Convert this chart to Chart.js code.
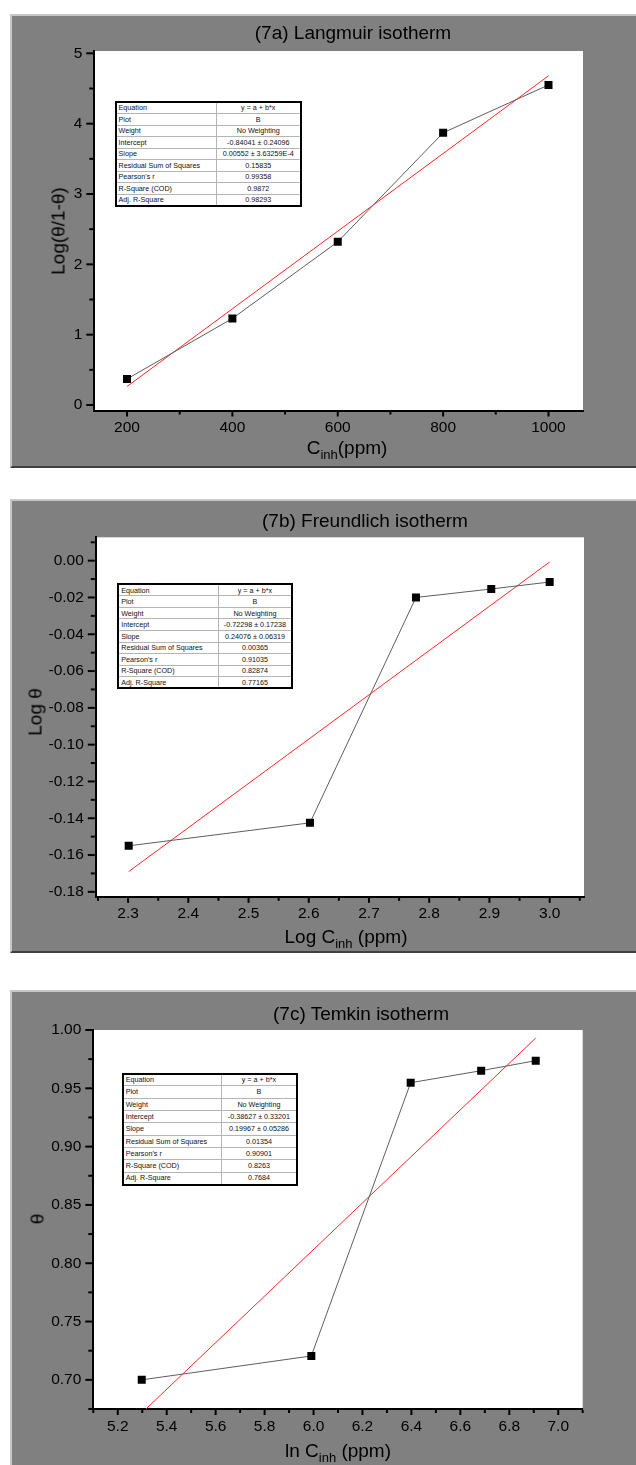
<!DOCTYPE html>
<html>
<head>
<meta charset="utf-8">
<script src="https://cdn.jsdelivr.net/npm/chart.js@4.4.1/dist/chart.umd.min.js"></script>
<style>
html, body { margin: 0; padding: 0; background: #fff; }
body { width: 636px; height: 1465px; position: relative; overflow: hidden;
       font-family: "Liberation Sans", Arial, sans-serif; color: #000; }
.panel { position: absolute; left: 10px; width: 626px; box-sizing: border-box;
         background: #808080; border-top: 2px solid #c8c8c8; border-left: 2px solid #c8c8c8; }
.panel canvas { position: absolute; left: 0; top: 0; }
.txt { position: absolute; white-space: nowrap; font-size: 19px; line-height: 1;
       transform: translate(-50%, -50%); color: #000; }
.txt.rot { transform: translate(-50%, -50%) rotate(-90deg); }
.txt .sb { position: relative; top: 5px; font-size: 13px; }
table.fit { position: absolute; border-collapse: collapse; background: #fff; table-layout: fixed;
            font: 7.2px "Liberation Sans", Arial, sans-serif; color: #111; border: 2px solid #000; }
table.fit td { border: 1px solid #b4b4b4; padding: 0 0 0 2px; line-height: 1; white-space: nowrap;
               overflow: hidden; vertical-align: middle; }
table.fit td.v { text-align: center; padding: 0; border-left-color: #8c8c8c; }
</style>
</head>
<body>

<div class="panel" style="top:14px;height:454px;border-bottom:2px solid #404040;">
  <canvas id="chartA" width="624" height="450"></canvas>
</div>
<div class="panel" style="top:499px;height:454px;border-bottom:2px solid #404040;">
  <canvas id="chartB" width="624" height="450"></canvas>
</div>
<div class="panel" style="top:990px;height:475px;">
  <canvas id="chartC" width="624" height="473"></canvas>
</div>

<div class="txt" style="left:353px;top:32px;">(7a) Langmuir isotherm</div>
<div class="txt" style="left:347px;top:447px;">C<span class="sb">inh</span>(ppm)</div>
<div class="txt rot" style="left:58px;top:231px;">Log(θ/1-θ)</div>

<div class="txt" style="left:365px;top:520px;">(7b) Freundlich isotherm</div>
<div class="txt" style="left:346px;top:936px;">Log C<span class="sb">inh</span> (ppm)</div>
<div class="txt rot" style="left:35px;top:712px;">Log θ</div>

<div class="txt" style="left:361px;top:1013px;">(7c) Temkin isotherm</div>
<div class="txt" style="left:338px;top:1450px;">ln C<span class="sb">inh</span> (ppm)</div>
<div class="txt rot" style="left:37px;top:1219px;">θ</div>

<script>
// ---- inhibitor concentrations and measured responses ----
const concA = [200, 400, 600, 800, 1000];               // C_inh (ppm)
const langmuirY = [0.37, 1.23, 2.32, 3.87, 4.55];       // Log(θ/1-θ)

const logConc = [2.301, 2.602, 2.778, 2.903, 3.0];      // Log C_inh
const logTheta = [-0.155, -0.1425, -0.020, -0.0154, -0.0116];

const lnConc = [5.298, 5.991, 6.397, 6.685, 6.908];     // ln C_inh
const theta = [0.700, 0.7205, 0.9548, 0.9651, 0.9737];

// ---- linear fit results (y = a + b*x) ----
const fitIntercepts = [-0.84041, -0.72298, -0.38627];
const fitSlopes = [0.00552, 0.24076, 0.19967];

// ---- fit report rows ----
const reportNames = ['Equation', 'Plot', 'Weight', 'Intercept', 'Slope',
  'Residual Sum of Squares', "Pearson's r", 'R-Square (COD)', 'Adj. R-Square'];
const reportA = ['y = a + b*x', 'B', 'No Weighting', '-0.84041 ± 0.24096', '0.00552 ± 3.63259E-4',
  '0.15835', '0.99358', '0.9872', '0.98293'];
const reportB = ['y = a + b*x', 'B', 'No Weighting', '-0.72298 ± 0.17238', '0.24076 ± 0.06319',
  '0.00365', '0.91035', '0.82874', '0.77165'];
const reportC = ['y = a + b*x', 'B', 'No Weighting', '-0.38627 ± 0.33201', '0.19967 ± 0.05286',
  '0.01354', '0.90901', '0.8263', '0.7684'];

// ---- tick labels ----
const xTicksA = ['200', '400', '600', '800', '1000'];
const yTicksA = ['0', '1', '2', '3', '4', '5'];
const xTicksB = ['2.3', '2.4', '2.5', '2.6', '2.7', '2.8', '2.9', '3.0'];
const yTicksB = ['-0.18', '-0.16', '-0.14', '-0.12', '-0.10', '-0.08', '-0.06', '-0.04', '-0.02', '0.00'];
const xTicksC = ['5.2', '5.4', '5.6', '5.8', '6.0', '6.2', '6.4', '6.6', '6.8', '7.0'];
const yTicksC = ['0.70', '0.75', '0.80', '0.85', '0.90', '0.95', '1.00'];

const FONT = '"Liberation Sans", Arial, sans-serif';

// Major ticks come from the label list; a minor tick sits halfway between majors.
function tickBuilder(labels) {
  const majors = labels.map(Number);
  const step = (majors[majors.length - 1] - majors[0]) / (majors.length - 1);
  return scale => {
    const out = [];
    const eps = step * 1e-3;
    for (let k = -4; k <= 2 * (majors.length - 1) + 4; k++) {
      const v = majors[0] + k * step / 2;
      if (v < scale.min - eps || v > scale.max + eps) continue;
      const isMajor = k % 2 === 0 && k >= 0 && k / 2 < majors.length;
      out.push({ value: v, major: isMajor, text: isMajor ? labels[k / 2] : '' });
    }
    scale.ticks = out;
  };
}

// White plot area plus outward major/minor tick marks.
const plotFrame = {
  id: 'plotFrame',
  beforeDraw(chart) {
    const { ctx, chartArea: a } = chart;
    ctx.save();
    ctx.fillStyle = '#ffffff';
    ctx.fillRect(a.left, a.top, a.right - a.left, a.bottom - a.top);
    ctx.restore();
  },
  afterDraw(chart) {
    const { ctx, chartArea: a } = chart;
    const xs = chart.scales.x, ys = chart.scales.y;
    ctx.save();
    ctx.strokeStyle = '#000';
    ctx.lineWidth = 2;
    xs.ticks.forEach(t => {
      const p = xs.getPixelForValue(t.value);
      const len = t.major ? 5 : 3;
      ctx.beginPath();
      ctx.moveTo(p, a.bottom + 1);
      ctx.lineTo(p, a.bottom + 1 + len);
      ctx.stroke();
    });
    ys.ticks.forEach(t => {
      const p = ys.getPixelForValue(t.value);
      const len = t.major ? 7 : 4;
      ctx.beginPath();
      ctx.moveTo(a.left - 1, p);
      ctx.lineTo(a.left - 1 - len, p);
      ctx.stroke();
    });
    ctx.restore();
  }
};

function axis(labels, min, max, extra) {
  return Object.assign({
    type: 'linear', min, max,
    afterBuildTicks: tickBuilder(labels),
    grid: { display: false, drawTicks: false, tickLength: 0 },
    border: { display: true, color: '#000', width: 2 },
    ticks: {
      autoSkip: false, maxRotation: 0, minRotation: 0, color: '#000',
      font: { family: FONT, size: 15.5 },
      callback: (v, i, ticks) => ticks[i].text || ''
    }
  }, extra);
}

// area = [left, right, top, bottom] of the plot in page pixels; origin = panel interior corner
function makeChart(id, cfg) {
  const canvas = document.getElementById(id);
  const W = canvas.width, H = canvas.height;
  const L = cfg.area[0] - cfg.origin[0], R = cfg.area[1] - cfg.origin[0];
  const T = cfg.area[2] - cfg.origin[1], B = cfg.area[3] - cfg.origin[1];
  const x0 = cfg.xs[0], x1 = cfg.xs[cfg.xs.length - 1];
  const fitLine = [{ x: x0, y: cfg.a + cfg.b * x0 }, { x: x1, y: cfg.a + cfg.b * x1 }];

  const xAxis = axis(cfg.xTicks, cfg.xRange[0], cfg.xRange[1], { position: 'bottom' });
  xAxis.ticks.padding = 8;
  xAxis.afterFit = s => { s.height = H - B; };
  const yAxis = axis(cfg.yTicks, cfg.yRange[0], cfg.yRange[1], { position: 'left' });
  yAxis.ticks.padding = 12;
  yAxis.afterFit = s => { s.width = L; };

  return new Chart(canvas, {
    type: 'scatter',
    data: {
      datasets: [
        {
          data: cfg.xs.map((x, i) => ({ x, y: cfg.ys[i] })),
          showLine: true, borderColor: '#5e5e5e', borderWidth: 1,
          pointStyle: 'rect', pointRadius: 5.66, pointHoverRadius: 5.66,
          pointBackgroundColor: '#000', pointBorderWidth: 0, order: 0
        },
        {
          data: fitLine, showLine: true, borderColor: '#ff2626', borderWidth: 1,
          pointRadius: 0, pointHoverRadius: 0, order: 1
        }
      ]
    },
    options: {
      responsive: false, animation: false, events: [],
      layout: { padding: { left: 0, top: T, right: W - R, bottom: 0 } },
      plugins: { legend: { display: false }, tooltip: { enabled: false }, title: { display: false } },
      scales: { x: xAxis, y: yAxis }
    },
    plugins: [plotFrame]
  });
}

makeChart('chartA', {
  origin: [12, 16], area: [94.3, 583, 51, 410.5],
  xs: concA, ys: langmuirY, a: fitIntercepts[0], b: fitSlopes[0],
  xTicks: xTicksA, yTicks: yTicksA, xRange: [137.9, 1065.5], yRange: [-0.078, 5.033]
});
makeChart('chartB', {
  origin: [12, 501], area: [95.8, 584, 537.3, 896.8],
  xs: logConc, ys: logTheta, a: fitIntercepts[1], b: fitSlopes[1],
  xTicks: xTicksB, yTicks: yTicksB, xRange: [2.2464, 3.057], yRange: [-0.1827, 0.0127]
});
makeChart('chartC', {
  origin: [12, 992], area: [93.3, 582.7, 1030, 1409],
  xs: lnConc, ys: theta, a: fitIntercepts[2], b: fitSlopes[2],
  xTicks: xTicksC, yTicks: yTicksC, xRange: [5.1, 7.1], yRange: [0.675, 1.0]
});

// Fit report tables
function makeReport(values, box) {
  const t = document.createElement('table');
  t.className = 'fit';
  t.style.left = box.left + 'px';
  t.style.top = box.top + 'px';
  t.style.width = box.width + 'px';
  t.style.height = box.height + 'px';
  const cg = document.createElement('colgroup');
  const c1 = document.createElement('col'); c1.style.width = box.col1 + 'px';
  const c2 = document.createElement('col');
  cg.appendChild(c1); cg.appendChild(c2); t.appendChild(cg);
  const rowH = (box.height - 4) / reportNames.length;
  reportNames.forEach((name, i) => {
    const tr = document.createElement('tr');
    tr.style.height = rowH + 'px';
    const a = document.createElement('td'); a.textContent = name;
    const b = document.createElement('td'); b.className = 'v'; b.textContent = values[i];
    tr.appendChild(a); tr.appendChild(b);
    t.appendChild(tr);
  });
  document.body.appendChild(t);
}
makeReport(reportA, { left: 114.5, top: 101, width: 187, height: 106, col1: 101 });
makeReport(reportB, { left: 117.2, top: 583.3, width: 176, height: 106, col1: 100 });
makeReport(reportC, { left: 121.7, top: 1072.5, width: 176, height: 113, col1: 99 });
</script>
</body>
</html>
